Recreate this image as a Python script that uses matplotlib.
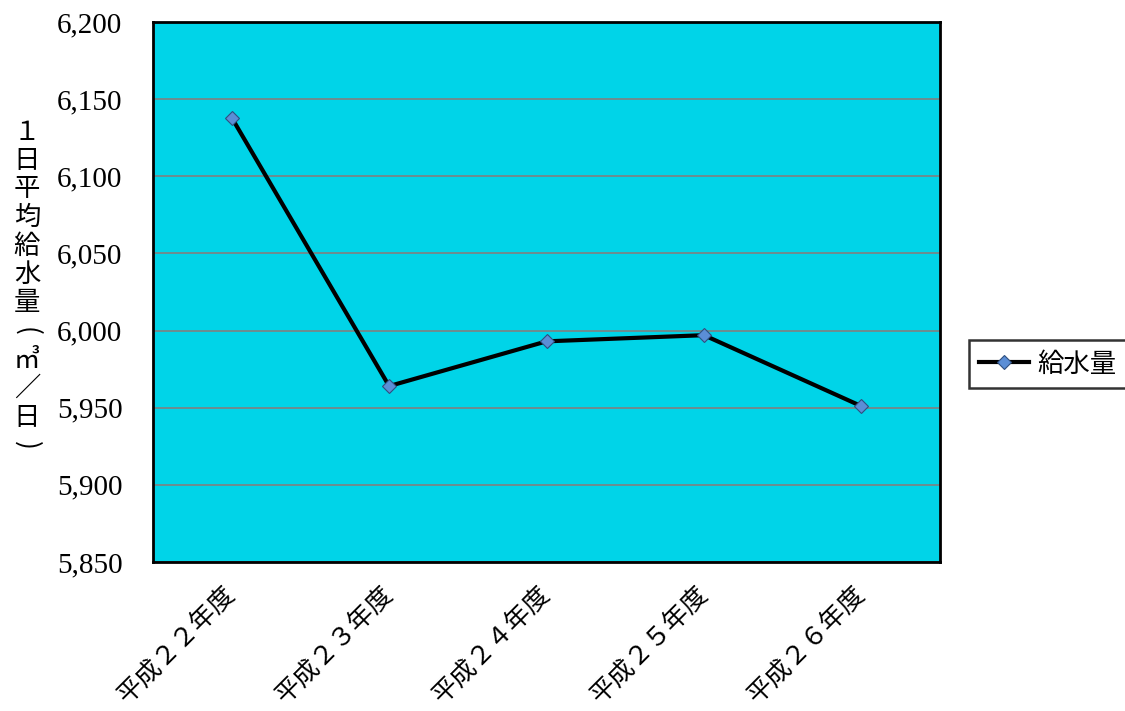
import matplotlib
matplotlib.use('Agg')
import matplotlib.pyplot as plt

plt.rcParams['font.family'] = ['Noto Sans CJK JP', 'DejaVu Sans']

# データ
years = ['平成２２年度', '平成２３年度', '平成２４年度', '平成２５年度', '平成２６年度']
supply = [6138, 5964, 5993, 5997, 5951]
yticks = [5850, 5900, 5950, 6000, 6050, 6100, 6150, 6200]
ylabel = '１日平均給水量(㎥／日)'

fig = plt.figure(figsize=(11.25, 7.11), dpi=100)
ax = fig.add_axes([0.136, 0.2096, 0.6996, 0.7595])
ax.set_facecolor('#00D4E8')

x = list(range(len(years)))
ax.plot(x, supply, color='black', lw=3, marker='D', ms=7,
        mfc='#5B8ED6', mec='#2F4F7F', mew=0.8, label='給水量', zorder=3)

ax.set_xlim(-0.5, len(years) - 0.5)
ax.set_ylim(5850, 6200)
ax.set_yticks(yticks)
ax.set_yticklabels([f'{v:,}' for v in yticks], fontfamily='Liberation Serif', fontsize=21)
ax.set_xticks(x)
ax.set_xticklabels(years, rotation=45, ha='right', va='center',
                   rotation_mode='anchor', fontsize=18.5)
ax.tick_params(axis='y', length=0, pad=22)
ax.tick_params(axis='x', length=0, pad=20)
ax.yaxis.grid(True, color='#808080', lw=1.2)
ax.set_axisbelow(True)
for s in ax.spines.values():
    s.set_linewidth(2)
    s.set_color('black')

# 縦書きラベル（1文字ずつ）
for i, ch in enumerate(ylabel):
    rot = -90 if ch in '()' else 0
    fig.text(27 / 1125, 1 - (132 + i * 28.5) / 711, ch, ha='center', va='center',
             fontsize=19, rotation=rot, rotation_mode='anchor')

leg = fig.legend(loc='center left', bbox_to_anchor=(0.861, 0.488), fontsize=19,
                 frameon=True, fancybox=False, edgecolor='black', handlelength=1.9,
                 handletextpad=0.3, borderpad=0.4, borderaxespad=0)
leg.get_frame().set_linewidth(1.8)

fig.savefig('out.png', dpi=100)
